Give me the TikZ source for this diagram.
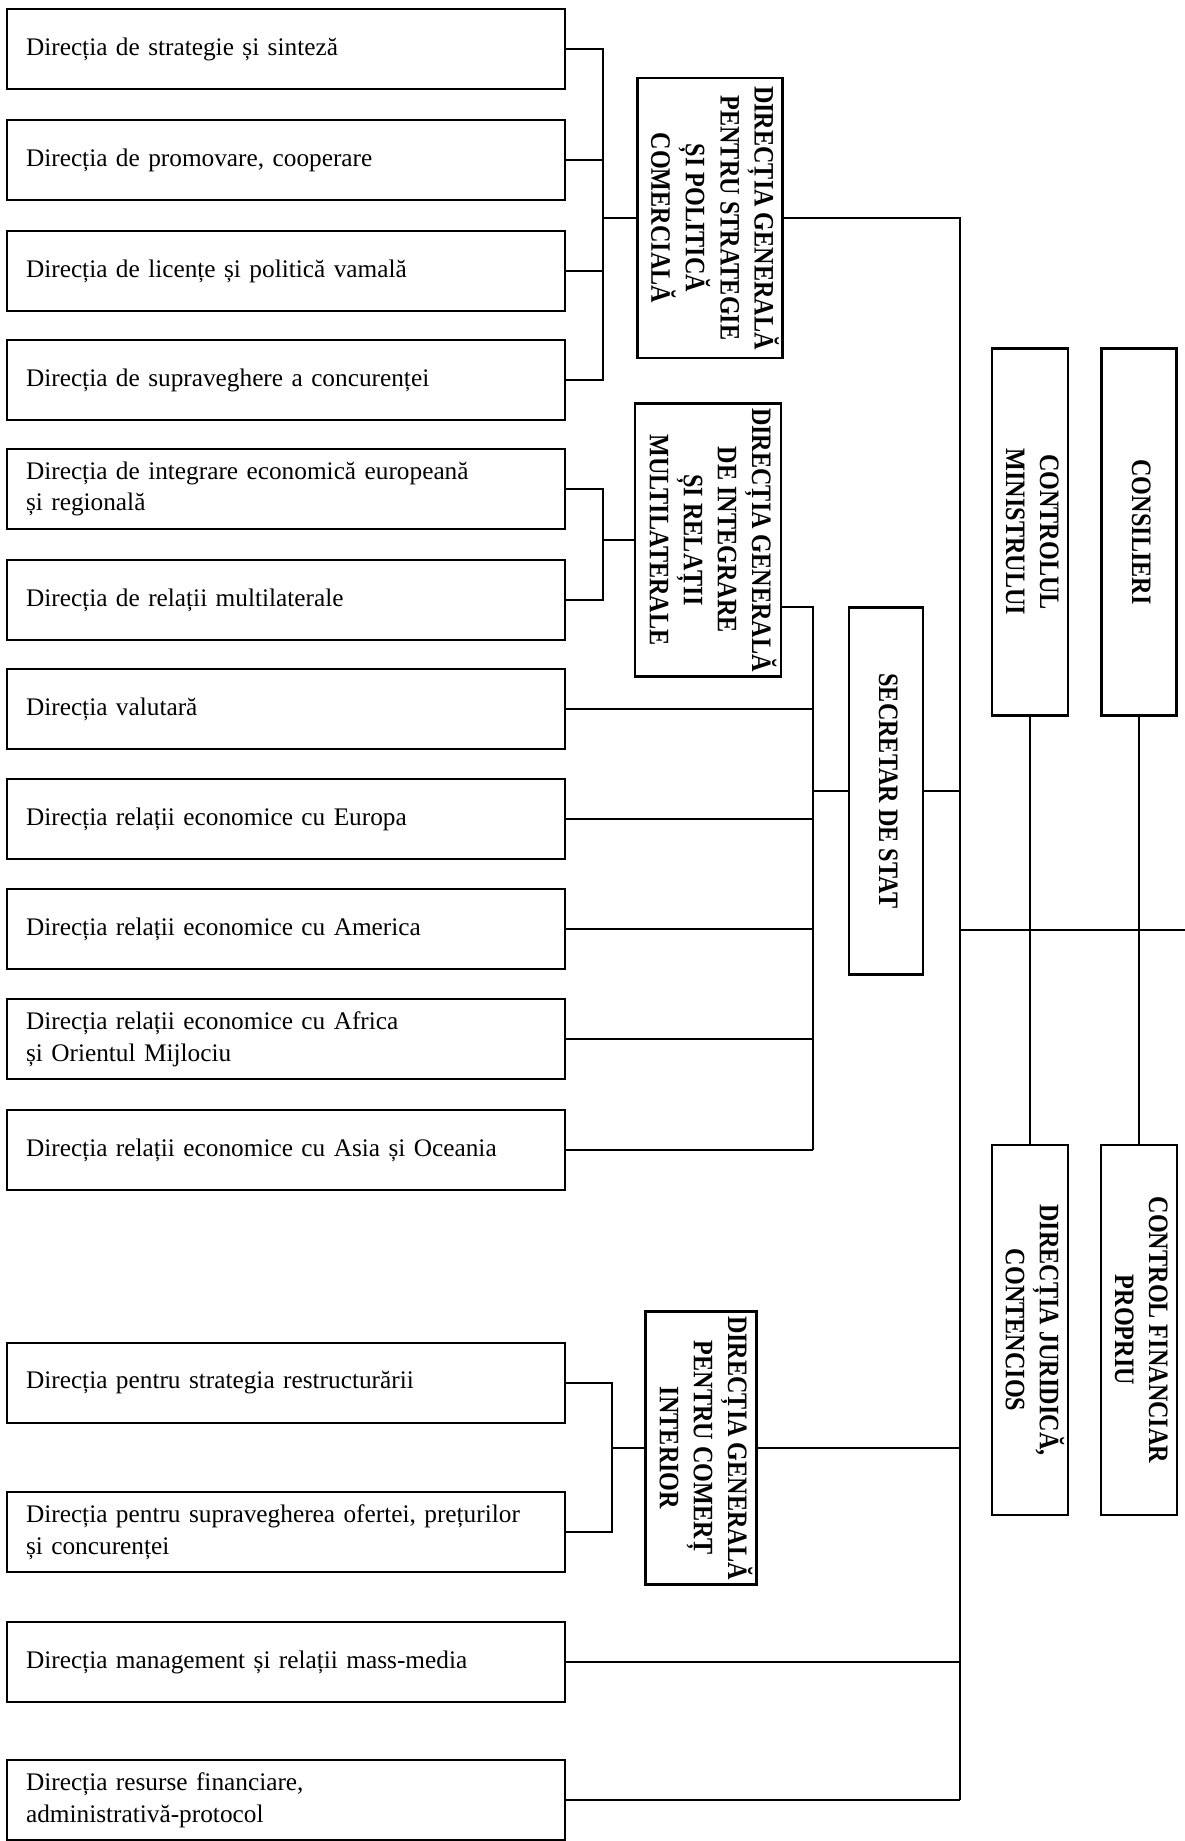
\documentclass[tikz,border=0pt]{standalone}
\usepackage{graphicx}
\usepackage{fontspec}
\setmainfont{Liberation Serif}
\newfontfamily\kapfont[FakeStretch=0.86]{Liberation Serif}

\def\senk#1{
	\rotatebox{-90}{\kapfont\bfseries\fontsize{16}{19.4}\selectfont
		\begin{tabular}{@{}c@{}}#1\end{tabular}}
}

\tikzset{
	abt/.style={draw,line width=1.6pt,minimum width=11.16cm,minimum height=1.6cm,
		text width=10.4cm,inner xsep=0.38cm,align=left,
		font=\fontsize{14.4}{18}\selectfont},
	ober/.style={draw,line width=1.6pt,inner sep=0pt},
	linie/.style={line width=1.3pt}
}

\begin{document}
\begin{tikzpicture}[x=0.02cm,y=-0.02cm,linie]
\useasboundingbox (0,0) rectangle (1185,1841);

% directii
\node[abt] (d1) at (286,49) {Direcția de strategie și sinteză};
\node[abt] (d2) at (286,160) {Direcția de promovare, cooperare};
\node[abt] (d3) at (286,271) {Direcția de licențe și politică vamală};
\node[abt] (d4) at (286,380) {Direcția de supraveghere a concurenței};
\node[abt] (d5) at (286,489) {Direcția de integrare economică europeană\\și regională};
\node[abt] (d6) at (286,600) {Direcția de relații multilaterale};
\node[abt] (d7) at (286,709) {Direcția valutară};
\node[abt] (d8) at (286,819) {Direcția relații economice cu Europa};
\node[abt] (d9) at (286,929) {Direcția relații economice cu America};
\node[abt] (d10) at (286,1039) {Direcția relații economice cu Africa\\și Orientul Mijlociu};
\node[abt] (d11) at (286,1150) {Direcția relații economice cu Asia și Oceania};
\node[abt] (d12) at (286,1383) {Direcția pentru strategia restructurării};
\node[abt] (d13) at (286,1532) {Direcția pentru supravegherea ofertei, prețurilor\\și concurenței};
\node[abt] (d14) at (286,1662) {Direcția management și relații mass-media};
\node[abt] (d15) at (286,1800) {Direcția resurse financiare,\\administrativă-protocol};

% directii generale
\node[ober,minimum width=2.9cm,minimum height=5.6cm] (dg1) at (710,218)
	{\senk{DIRECȚIA GENERALĂ\\PENTRU STRATEGIE\\ȘI POLITICĂ\\COMERCIALĂ}};
\node[ober,minimum width=2.92cm,minimum height=5.46cm] (dg2) at (708,540)
	{\senk{DIRECȚIA GENERALĂ\\DE INTEGRARE\\ȘI RELAȚII\\MULTILATERALE}};
\node[ober,minimum width=2.22cm,minimum height=5.46cm] (dg3) at (701,1448)
	{\senk{DIRECȚIA GENERALĂ\\PENTRU COMERȚ\\INTERIOR}};

% conducere
\node[ober,minimum width=1.48cm,minimum height=7.34cm] (ss) at (886,791)
	{\senk{SECRETAR DE STAT}};
\node[ober,minimum width=1.52cm,minimum height=7.34cm] (cm) at (1030,532)
	{\senk{CONTROLUL\\MINISTRULUI}};
\node[ober,minimum width=1.5cm,minimum height=7.34cm] (cons) at (1139,532)
	{\senk{CONSILIERI}};
\node[ober,minimum width=1.52cm,minimum height=7.4cm] (dj) at (1030,1330)
	{\senk{DIRECȚIA JURIDICĂ,\\CONTENCIOS}};
\node[ober,minimum width=1.52cm,minimum height=7.4cm] (cf) at (1139,1330)
	{\senk{CONTROL FINANCIAR\\PROPRIU}};

% legaturi
\coordinate (s1) at (603,218);
\coordinate (s2) at (603,540);
\coordinate (s3) at (612,1448);
\coordinate (v1) at (960,1800);
\coordinate (v2) at (813,1150);
\coordinate (r) at (1185,930);

\foreach \d in {d1,d2,d3,d4}
	\draw (\d.east) -| (s1);
\draw (s1) -- (dg1.west);
\foreach \d in {d5,d6}
	\draw (\d.east) -| (s2);
\draw (s2) -- (dg2.west);
\foreach \d in {d12,d13}
	\draw (\d.east) -| (s3);
\draw (s3) -- (dg3.west);

\draw ([yshift=-1.34cm]dg2.east) -| (v2);
\foreach \d in {d7,d8,d9,d10,d11}
	\draw (\d.east) -- (\d.east -| v2);
\draw (v2 |- ss.west) -- (ss.west);

\draw (dg1.east) -| (v1);
\foreach \d in {ss,dg3,d14,d15}
	\draw (\d.east) -- (\d.east -| v1);
\draw (r -| v1) -- (r);
\draw (cm.south) -- (dj.north);
\draw (cons.south) -- (cf.north);
\end{tikzpicture}
\end{document}
